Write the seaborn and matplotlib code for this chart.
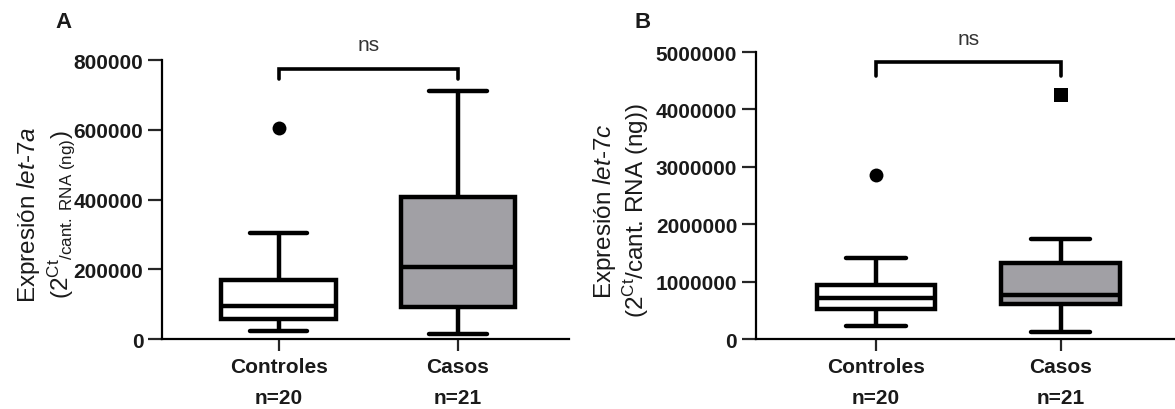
import numpy as np
import pandas as pd
import matplotlib
matplotlib.use("Agg")
import matplotlib.pyplot as plt
import seaborn as sns

# ---------------- data (five-number summaries) ----------------
groups = ["Controles", "Casos"]
n_labels = ["n=20", "n=21"]

# Panel A: let-7a  [whisker low, Q1, median, Q3, whisker high]
a_controles = [24000, 57000, 95000, 170000, 303000]
a_casos = [14000, 91000, 207000, 406000, 710000]
a_out_controles = [604000]
a_out_casos = []

# Panel B: let-7c
b_controles = [222000, 525000, 718000, 933000, 1418000]
b_casos = [128000, 613000, 770000, 1324000, 1750000]
b_out_controles = [2860000]
b_out_casos = [4250000]

a_ticks = [0, 200000, 400000, 600000, 800000]
b_ticks = [0, 1000000, 2000000, 3000000, 4000000, 5000000]

a_bracket = (775000, 745000, 845000)   # bar, leg end, "ns" text
b_bracket = (4830000, 4580000, 5230000)

# ---------------- style ----------------
sns.set_theme(style="white")
plt.rcParams["font.family"] = ["Liberation Sans", "DejaVu Sans"]
plt.rcParams["mathtext.fontset"] = "custom"
plt.rcParams["mathtext.rm"] = "Liberation Sans"
plt.rcParams["mathtext.it"] = "Liberation Sans:italic"
plt.rcParams["mathtext.bf"] = "Liberation Sans:bold"

TXT = "#1a1a1a"
GRAY = "#a1a0a5"
palette = {"Controles": "white", "Casos": GRAY}

fig = plt.figure(figsize=(11.75, 4.1), dpi=100)
axA = fig.add_axes([0.1379, 0.1707, 0.3464, 0.6805])
axB = fig.add_axes([0.6434, 0.1707, 0.3566, 0.6998])


def panel(ax, ctrl, cas, out_c, out_s, ticks, bracket, ylabel, label_x, letter, letter_x):
    df = pd.DataFrame({
        "grupo": [groups[0]] * len(ctrl) + [groups[1]] * len(cas),
        "valor": ctrl + cas,
    })
    sns.boxplot(data=df, x="grupo", y="valor", hue="grupo", order=groups,
                palette=palette, legend=False, whis=(0, 100), width=0.64,
                linewidth=3.2, linecolor="black", fliersize=0, ax=ax,
                saturation=1)
    if out_c:
        sns.stripplot(x=[groups[0]] * len(out_c), y=out_c, order=groups,
                      jitter=False, color="black", marker="o", size=10,
                      ax=ax, zorder=5)
    if out_s:
        sns.stripplot(x=[groups[1]] * len(out_s), y=out_s, order=groups,
                      jitter=False, color="black", marker="s", size=9.5,
                      ax=ax, zorder=5)
    ax.set_xlim(-0.65, 1.62)
    ax.set_ylim(0, ticks[-1])
    ax.set_yticks(ticks)
    ax.set_yticklabels([str(t) for t in ticks], fontsize=15, fontweight="bold", color=TXT)
    ax.set_xticks([0, 1])
    ax.set_xticklabels([f"{g}\n{n}" for g, n in zip(groups, n_labels)],
                       fontsize=15, fontweight="bold", color=TXT, linespacing=1.8)
    ax.set_xlabel("")
    ax.set_ylabel(ylabel, fontsize=17.5, color=TXT, linespacing=1.15)
    ax.yaxis.set_label_coords(label_x, 0.45)
    for s in ["top", "right"]:
        ax.spines[s].set_visible(False)
    for s in ["left", "bottom"]:
        ax.spines[s].set_linewidth(1.6)
        ax.spines[s].set_color("black")
    ax.tick_params(axis="y", direction="out", length=10, width=1.6, pad=3.5, left=True)
    ax.tick_params(axis="x", direction="out", length=8.5, width=1.6, pad=4.5, bottom=True)
    # significance bracket
    bar, leg, ty = bracket
    ax.plot([0, 0, 1, 1], [leg, bar, bar, leg], color="black", lw=2.6,
            clip_on=False, solid_joinstyle="miter")
    ax.text(0.5, ty, "ns", ha="center", va="center", fontsize=15, color="#333333",
            clip_on=False)
    fig.text(letter_x, 1 - 23 / 410, letter, fontsize=16, fontweight="bold",
             ha="center", va="center", color=TXT)


panel(axA, a_controles, a_casos, a_out_controles, a_out_casos, a_ticks, a_bracket,
      "Expresión $\\mathit{let}$-$\\mathit{7a}$\n(2$^{\\mathrm{Ct}}$$_{\\mathrm{/cant.\\ RNA\\ (ng)}}$)",
      -0.21, "A", 63 / 1175)
panel(axB, b_controles, b_casos, b_out_controles, b_out_casos, b_ticks, b_bracket,
      "Expresión $\\mathit{let}$-$\\mathit{7c}$\n(2$^{\\mathrm{Ct}}$/cant. RNA (ng))",
      -0.25, "B", 643 / 1175)

fig.savefig("out.png", dpi=100)
